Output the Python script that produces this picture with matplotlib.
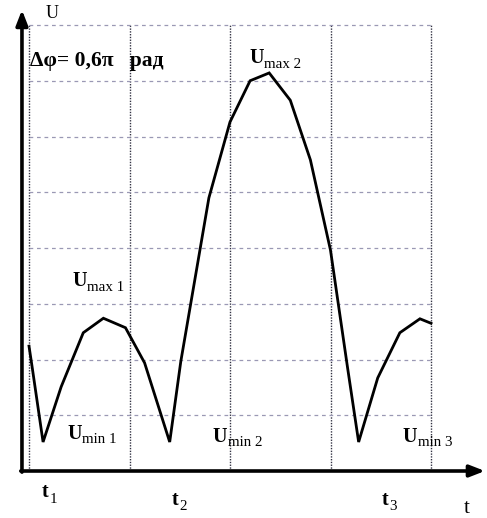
import matplotlib
matplotlib.use("Agg")
import matplotlib.pyplot as plt

# Curve (t in grid units, U in grid units)
t_vals = [0.00, 0.03, 0.14, 0.32, 0.54, 0.74, 0.96, 1.15, 1.40, 1.51, 1.61, 1.79,
          2.00, 2.20, 2.39, 2.60, 2.80, 3.00, 3.17, 3.28, 3.47, 3.69, 3.89, 4.00]
u_vals = [2.24, 1.88, 0.52, 1.51, 2.48, 2.74, 2.57, 1.94, 0.52, 1.96, 3.01, 4.90,
          6.26, 7.00, 7.14, 6.65, 5.58, 3.96, 1.85, 0.52, 1.67, 2.48, 2.73, 2.65]

v_grid = [0, 1, 2, 3, 4]
h_grid = [1, 2, 3, 4, 5, 6, 7, 8]

# Labels: (main, subscript, x_left, baseline_y)
u_labels = [("U", "max 2", 2.19, 7.31),
            ("U", "max 1", 0.43, 3.31),
            ("U", "min 1", 0.38, 0.57),
            ("U", "min 2", 1.83, 0.52),
            ("U", "min 3", 3.72, 0.52)]
t_labels = [("t", "1", 0.13, -0.47),
            ("t", "2", 1.42, -0.61),
            ("t", "3", 3.51, -0.61)]
phase_label = "Δφ= 0,6π   рад"

SERIF = ["Liberation Serif", "DejaVu Serif"]

fig = plt.figure(figsize=(4.87, 5.18), dpi=100)
ax = fig.add_axes([0, 0, 1, 1])
ax.set_xlim(-29 / 100.5, (487 - 29) / 100.5)
ax.set_ylim((471 - 518) / 55.75, 471 / 55.75)
ax.axis("off")

# grid
for x in v_grid:
    ax.plot([x, x], [0, 8], linestyle=(0, (1, 1)), color="#333344", lw=1.0, zorder=1)
for y in h_grid:
    ax.plot([0, 4], [y, y], linestyle=(0, (3, 3)), color="#9a98b4", lw=0.9, zorder=1)

# axes with arrows
x0 = -0.07
ax.annotate("", xy=(x0, 8.27), xytext=(x0, -0.02),
            arrowprops=dict(arrowstyle="-|>,head_length=0.9,head_width=0.35",
                            color="black", lw=2.6, shrinkA=0, shrinkB=0))
ax.annotate("", xy=(4.537, 0), xytext=(x0 - 0.012, 0),
            arrowprops=dict(arrowstyle="-|>,head_length=0.9,head_width=0.35",
                            color="black", lw=2.6, shrinkA=0, shrinkB=0))

# curve
ax.plot(t_vals, u_vals, color="black", lw=2.0, zorder=3, solid_joinstyle="miter")

# axis labels
ax.text(0.23, 8.2, "U", family=SERIF, fontsize=13, ha="center", va="center")
ax.text(4.36, -0.68, "t", family=SERIF, fontsize=15, ha="center", va="center")

ax.text(0.01, 7.26, phase_label, family=SERIF, fontsize=15.5, fontweight="bold",
        ha="left", va="baseline")

for main, sub, x, y in u_labels:
    m = ax.text(x, y, main, family=SERIF, fontsize=14.5, fontweight="bold",
                ha="left", va="baseline")
    ax.annotate(sub, xy=(1, 0), xycoords=m, xytext=(0.5, -1.5),
                textcoords="offset points", family=SERIF, fontsize=10.8,
                ha="left", va="bottom")

for main, sub, x, y in t_labels:
    m = ax.text(x, y, main, family=SERIF, fontsize=14.5, fontweight="bold",
                ha="left", va="baseline")
    ax.annotate(sub, xy=(1, 0), xycoords=m, xytext=(0.5, -2.5),
                textcoords="offset points", family=SERIF, fontsize=10.8,
                ha="left", va="bottom")

fig.savefig("out.png", dpi=100)
